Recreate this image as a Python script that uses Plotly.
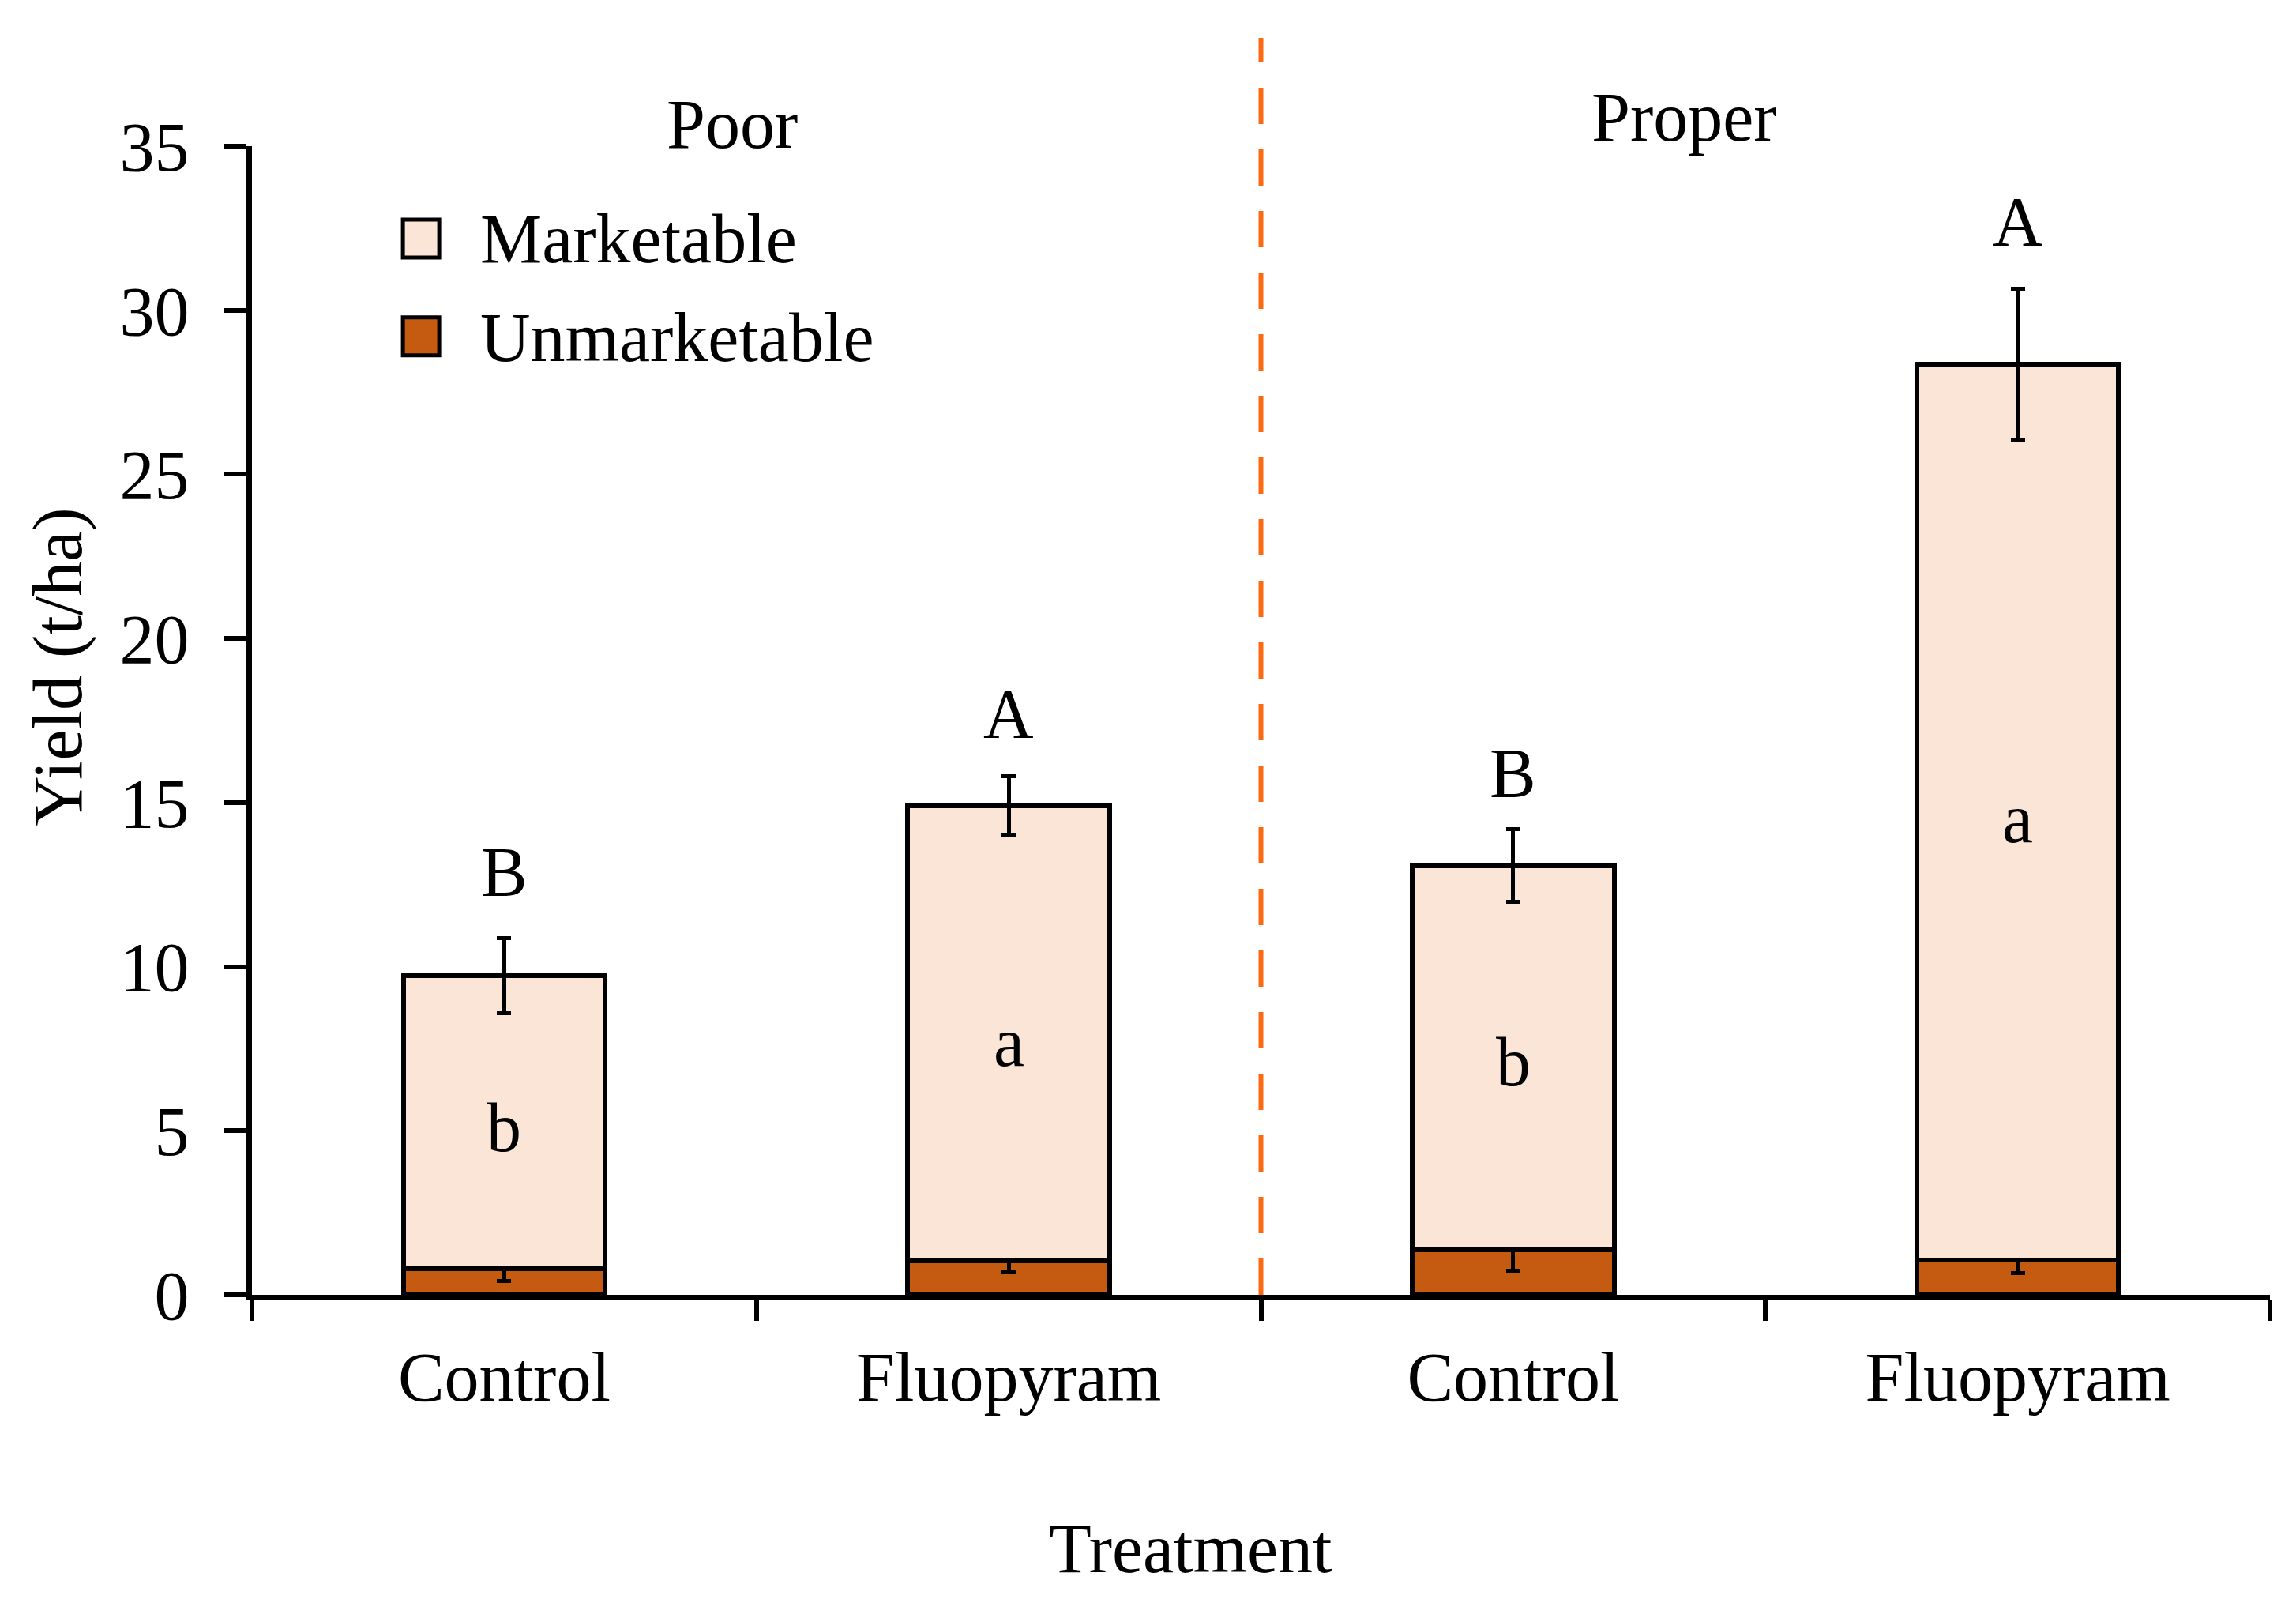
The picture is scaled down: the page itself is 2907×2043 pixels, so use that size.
import plotly.graph_objects as go

# ---- data ----
x_pos = [0, 1, 2, 3]
treatments = ["Control", "Fluopyram", "Control", "Fluopyram"]
groups = ["Poor", "Proper"]
unmarketable = [0.80, 1.03, 1.38, 1.07]
unmarketable_err = [0.38, 0.35, 0.65, 0.40]
marketable = [8.93, 13.87, 11.70, 27.28]
total_err = [1.15, 0.90, 1.10, 2.30]
upper_letters = ["B", "A", "B", "A"]
upper_letter_y = [12.9, 17.7, 15.9, 32.7]
lower_letters = ["b", "a", "b", "a"]
lower_letter_y = [5.1, 7.7, 7.1, 14.5]
y_ticks = [0, 5, 10, 15, 20, 25, 30, 35]

FONT = "Liberation Serif, Times New Roman, serif"
FS = 88
C_MARK = "#FBE5D6"
C_UNMARK = "#C55A11"

fig = go.Figure()
fig.add_trace(go.Bar(
    x=x_pos, y=unmarketable, name="Unmarketable", width=0.4,
    marker=dict(color=C_UNMARK, line=dict(color="black", width=6)),
    error_y=dict(type="data", array=unmarketable_err, color="black", thickness=5, width=9),
    showlegend=False,
))
fig.add_trace(go.Bar(
    x=x_pos, y=marketable, name="Marketable", width=0.4,
    marker=dict(color=C_MARK, line=dict(color="black", width=6)),
    error_y=dict(type="data", array=total_err, color="black", thickness=5, width=9),
    showlegend=False,
))

txt_font = dict(family=FONT, size=FS, color="black")
annotations = []
for xi, t, yv in zip(x_pos, upper_letters, upper_letter_y):
    annotations.append(dict(x=xi, y=yv, xref="x", yref="y", text=t, showarrow=False, font=txt_font))
for xi, t, yv in zip(x_pos, lower_letters, lower_letter_y):
    annotations.append(dict(x=xi, y=yv, xref="x", yref="y", text=t, showarrow=False, font=txt_font))
# group labels
annotations.append(dict(x=0.238, y=1.0186, xref="paper", yref="paper", text=groups[0],
                        showarrow=False, xanchor="center", yanchor="middle", font=txt_font))
annotations.append(dict(x=0.7096, y=1.0254, xref="paper", yref="paper", text=groups[1],
                        showarrow=False, xanchor="center", yanchor="middle", font=txt_font))
# axis titles
annotations.append(dict(x=0.465, y=-0.2208, xref="paper", yref="paper", text="Treatment",
                        showarrow=False, xanchor="center", yanchor="middle", font=txt_font))
annotations.append(dict(x=-0.0959, y=0.547, xref="paper", yref="paper", text="Yield (t/ha)",
                        textangle=-90, showarrow=False, xanchor="center", yanchor="middle",
                        font=txt_font))

# custom legend
legend_items = [("Marketable", C_MARK, 0.903, 0.936, 0.9195),
                ("Unmarketable", C_UNMARK, 0.818, 0.851, 0.833)]
shapes = []
for name, col, y0, y1, yt in legend_items:
    shapes.append(dict(type="rect", xref="paper", yref="paper", x0=0.0748, x1=0.0928,
                       y0=y0, y1=y1, fillcolor=col, line=dict(color="black", width=5)))
    annotations.append(dict(x=0.1123, y=yt, xref="paper", yref="paper", text=name,
                            showarrow=False, xanchor="left", yanchor="middle", font=txt_font))

# dashed divider
shapes.append(dict(type="line", xref="x", yref="paper", x0=1.5, x1=1.5, y0=0, y1=38.3 / 35,
                   line=dict(color="#FA6A12", width=6, dash="46px,32px")))

fig.update_layout(
    barmode="stack",
    width=2907, height=2043,
    margin=dict(l=319, r=33, t=185, b=404),
    paper_bgcolor="white", plot_bgcolor="white",
    font=dict(family=FONT, size=FS, color="black"),
    annotations=annotations,
    shapes=shapes,
    showlegend=False,
    xaxis=dict(
        range=[-0.5, 3.5], tickmode="array", tickvals=x_pos, ticktext=treatments,
        ticks="outside", ticklen=0, showline=True, linecolor="black", linewidth=6,
        showgrid=False, zeroline=False, ticklabelstandoff=22,
        minor=dict(tickvals=[-0.5, 0.5, 1.5, 2.5, 3.5], ticklen=27, tickwidth=6,
                   tickcolor="black", showgrid=False),
        tickfont=dict(family=FONT, size=FS),
    ),
    yaxis=dict(
        range=[0, 35], tickmode="array", tickvals=y_ticks,
        ticks="outside", ticklen=27, tickwidth=6, tickcolor="black",
        showline=True, linecolor="black", linewidth=8,
        showgrid=False, zeroline=False, ticklabelstandoff=27,
        tickfont=dict(family=FONT, size=FS),
    ),
)

fig.write_html("out.html")
